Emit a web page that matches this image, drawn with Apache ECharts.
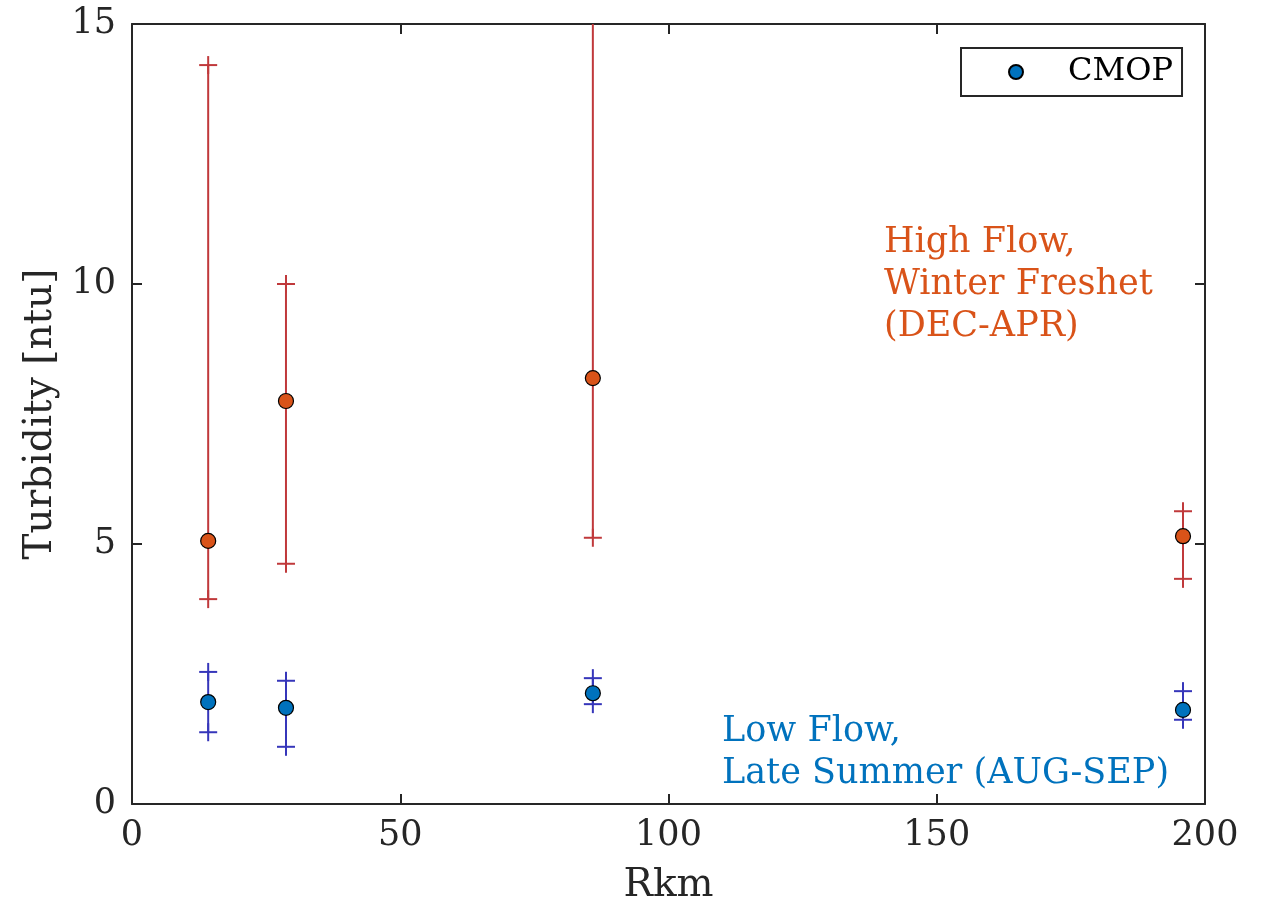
<!DOCTYPE html>
<html>
<head>
<meta charset="utf-8">
<script src="https://cdn.jsdelivr.net/npm/echarts@6/dist/echarts.min.js"></script>
<style>html,body{margin:0;padding:0;background:#fff;}#main{width:1261px;height:904px;}</style>
</head>
<body>
<div id="main"></div>
<script>
// ---- data ----
const rkm = [14.2, 28.7, 85.9, 195.9];
const highFlowMean = [5.06, 7.75, 8.19, 5.15];
const highFlowLow = [3.94, 4.62, 5.12, 4.33];
const highFlowHigh = [14.21, 10.0, 16.0, 5.63];
const lowFlowMean = [1.96, 1.85, 2.13, 1.81];
const lowFlowLow = [1.38, 1.10, 1.92, 1.62];
const lowFlowHigh = [2.54, 2.37, 2.42, 2.17];
const xTicks = [0, 50, 100, 150, 200];
const yTicks = [0, 5, 10, 15];
const legendLabel = 'CMOP';
const highFlowText = 'High Flow,\nWinter Freshet\n(DEC-APR)';
const lowFlowText = 'Low Flow,\nLate Summer (AUG-SEP)';

const FONT = 'DejaVu Serif';
const AX = '#262626';

function errData(xs, lo, hi) { return xs.map((x, i) => [x, lo[i], hi[i]]); }
function meanData(xs, m) { return xs.map((x, i) => [x, m[i]]); }

function errRender(color) {
  return function (params, api) {
    const x = api.value(0);
    const p1 = api.coord([x, api.value(1)]);
    const p2 = api.coord([x, api.value(2)]);
    const s = 9;
    const st = { stroke: color, lineWidth: 2 };
    const plus = (p) => [
      { type: 'line', shape: { x1: p[0] - s, y1: p[1], x2: p[0] + s, y2: p[1] }, style: st },
      { type: 'line', shape: { x1: p[0], y1: p[1] - s, x2: p[0], y2: p[1] + s }, style: st }
    ];
    return {
      type: 'group',
      children: [
        { type: 'line', shape: { x1: p1[0], y1: p1[1], x2: p2[0], y2: p2[1] }, style: st }
      ].concat(plus(p1), plus(p2))
    };
  };
}

function axisBase() {
  return {
    min: 0,
    axisLine: { show: true, onZero: false, lineStyle: { color: AX, width: 2 } },
    axisTick: { show: true, inside: true, length: 10, lineStyle: { color: AX, width: 2 } },
    splitLine: { show: false }
  };
}

const chart = echarts.init(document.getElementById('main'));
chart.setOption({
  animation: false,
  backgroundColor: '#fff',
  grid: { left: 132, top: 24, width: 1073, height: 780, containLabel: false, outerBoundsMode: 'none' },
  xAxis: [
    Object.assign(axisBase(), {
      type: 'value', max: 200, interval: 50, position: 'bottom',
      name: 'Rkm', nameLocation: 'middle', nameGap: 62,
      nameTextStyle: { fontFamily: FONT, fontSize: 39, color: AX },
      axisLabel: { fontFamily: FONT, fontSize: 35, color: AX, margin: 14,
        formatter: v => xTicks.includes(v) ? String(v) : '' }
    }),
    Object.assign(axisBase(), {
      type: 'value', max: 200, interval: 50, position: 'top', axisLabel: { show: false }
    })
  ],
  yAxis: [
    Object.assign(axisBase(), {
      type: 'value', max: 15, interval: 5, position: 'left',
      name: 'Turbidity [ntu]', nameLocation: 'middle', nameGap: 70,
      nameTextStyle: { fontFamily: FONT, fontSize: 39, color: AX },
      axisLabel: { fontFamily: FONT, fontSize: 35, color: AX, margin: 16,
        formatter: v => yTicks.includes(v) ? String(v) : '' }
    }),
    Object.assign(axisBase(), {
      type: 'value', max: 15, interval: 5, position: 'right', axisLabel: { show: false }
    })
  ],
  legend: {
    data: [legendLabel],
    left: 961, top: 48,
    padding: [8, 9, 8, 47],
    itemWidth: 14, itemHeight: 14,
    borderColor: AX, borderWidth: 2,
    backgroundColor: '#fff',
    textStyle: { fontFamily: FONT, fontSize: 32, color: '#000', padding: [0, 0, 0, 40] }
  },
  series: [
    {
      type: 'custom', name: 'highErr', clip: true, silent: true,
      renderItem: errRender('#C0393B'),
      encode: { x: 0, y: [1, 2] },
      data: errData(rkm, highFlowLow, highFlowHigh), z: 2
    },
    {
      type: 'custom', name: 'lowErr', clip: true, silent: true,
      renderItem: errRender('#3636BA'),
      encode: { x: 0, y: [1, 2] },
      data: errData(rkm, lowFlowLow, lowFlowHigh), z: 2
    },
    {
      type: 'scatter', name: 'High', symbol: 'circle', symbolSize: 15,
      itemStyle: { color: '#D95319', borderColor: '#000', borderWidth: 1.2, opacity: 1 },
      data: meanData(rkm, highFlowMean), z: 3
    },
    {
      type: 'scatter', name: legendLabel, symbol: 'circle', symbolSize: 15,
      itemStyle: { color: '#0072BD', borderColor: '#000', borderWidth: 1.2, opacity: 1 },
      data: meanData(rkm, lowFlowMean), z: 3
    }
  ],
  graphic: [
    { type: 'text', left: 884, top: 222,
      style: { text: highFlowText, fontFamily: FONT, fontSize: 35, lineHeight: 42, fill: '#D95319' } },
    { type: 'text', left: 722, top: 711,
      style: { text: lowFlowText, fontFamily: FONT, fontSize: 35, lineHeight: 42, fill: '#0072BD' } }
  ]
});
</script>
</body>
</html>
